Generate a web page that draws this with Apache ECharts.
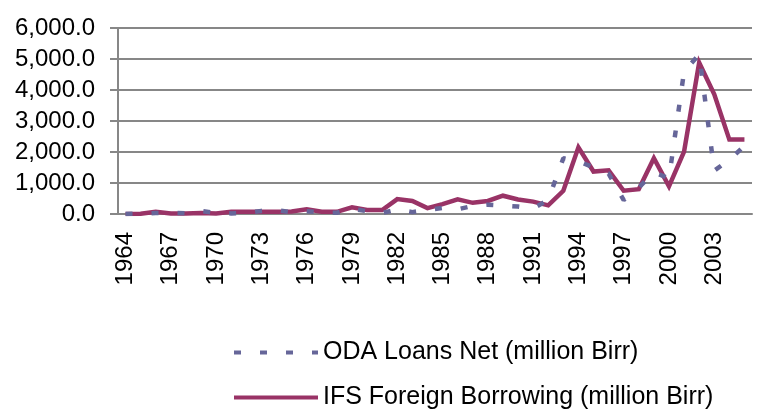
<!DOCTYPE html>
<html>
<head>
<meta charset="utf-8">
<script src="https://cdn.jsdelivr.net/npm/echarts@6/dist/echarts.min.js"></script>
<style>
  html, body { margin: 0; padding: 0; background: #fff; }
  #chart { width: 761px; height: 410px; }
</style>
</head>
<body>
<div id="chart"></div>
<script>
// years on the x axis
const years = [
  "1964", "1965", "1966", "1967", "1968", "1969", "1970", "1971", "1972", "1973",
  "1974", "1975", "1976", "1977", "1978", "1979", "1980", "1981", "1982", "1983",
  "1984", "1985", "1986", "1987", "1988", "1989", "1990", "1991", "1992", "1993",
  "1994", "1995", "1996", "1997", "1998", "1999", "2000", "2001", "2002", "2003",
  "2004", "2005",
];

// million Birr
const odaLoansNet = [
  0, 10, 30, 40, 20, 100, 30, 20, 40, 100,
  130, 50, 90, 50, 40, 170, 90, 30, 150, 60,
  130, 200, 150, 260, 300, 270, 240, 180, 450, 1800,
  1700, 1500, 1300, 450, 850, 1350, 1150, 4600, 5150, 1400,
  1750, 2200,
];

const ifsForeignBorrowing = [
  0, 10, 70, 20, 20, 30, 20, 70, 70, 70,
  70, 80, 150, 70, 70, 215, 130, 130, 480, 420,
  190, 320, 470, 360, 420, 590, 470, 400, 280, 750,
  2150, 1370, 1410, 750, 800, 1800, 890, 2010, 4880, 3860,
  2400, 2400,
];

const seriesNames = [
  "ODA Loans Net (million Birr)",
  "IFS Foreign Borrowing (million Birr)",
];

const yTicks = { min: 0, max: 6000, interval: 1000 };

const FONT = '"Liberation Sans", Arial, sans-serif';
const GRID_GRAY = "#878787";
const ODA_COLOR = "#666699";
const IFS_COLOR = "#993366";

const formatValue = (v) =>
  v.toLocaleString("en-US", { minimumFractionDigits: 1, maximumFractionDigits: 1 });

// one legend block per row, stacked under the plot
const legendRow = (name, top) => ({
  left: 232,
  top,
  padding: 0,
  itemWidth: 84,
  itemHeight: 14,
  itemStyle: { opacity: 0 },
  lineStyle: { width: 4 },
  textStyle: { fontFamily: FONT, fontSize: 25, color: "#000", lineHeight: 24 },
  data: [name],
});

const getOption = () => ({
  animation: false,
  textStyle: { fontFamily: FONT, color: "#000" },

  grid: {
    left: 118,
    right: 9,
    top: 28,
    bottom: 196,
    containLabel: false,
    outerBoundsMode: "none",
  },

  legend: [
    legendRow(seriesNames[0], 340),
    legendRow(seriesNames[1], 385),
  ],

  xAxis: {
    type: "category",
    data: years,
    boundaryGap: true,
    axisLine: { lineStyle: { color: GRID_GRAY, width: 2 } },
    axisTick: { interval: 0, length: 7, lineStyle: { color: GRID_GRAY, width: 1.5 } },
    axisLabel: {
      interval: 2,
      rotate: 90,
      margin: 18,
      fontFamily: FONT,
      fontSize: 24,
      color: "#000",
    },
    splitLine: { show: false },
  },

  yAxis: {
    type: "value",
    min: yTicks.min,
    max: yTicks.max,
    interval: yTicks.interval,
    axisLine: { show: true, lineStyle: { color: GRID_GRAY, width: 2 } },
    axisTick: { show: true, length: 8, lineStyle: { color: GRID_GRAY, width: 2 } },
    axisLabel: {
      margin: 23,
      fontFamily: FONT,
      fontSize: 24,
      color: "#000",
      formatter: formatValue,
    },
    splitLine: { lineStyle: { color: GRID_GRAY, width: 2 } },
  },

  series: [
    {
      name: seriesNames[0],
      type: "line",
      data: odaLoansNet,
      symbol: "none",
      z: 3,
      lineStyle: { color: ODA_COLOR, width: 4.5, type: [7, 19], cap: "butt" },
      itemStyle: { color: ODA_COLOR },
    },
    {
      name: seriesNames[1],
      type: "line",
      data: ifsForeignBorrowing,
      symbol: "none",
      z: 2,
      lineStyle: { color: IFS_COLOR, width: 4.5, join: "miter" },
      itemStyle: { color: IFS_COLOR },
    },
  ],
});

const chart = echarts.init(document.getElementById("chart"));
chart.setOption(getOption());
</script>
</body>
</html>
